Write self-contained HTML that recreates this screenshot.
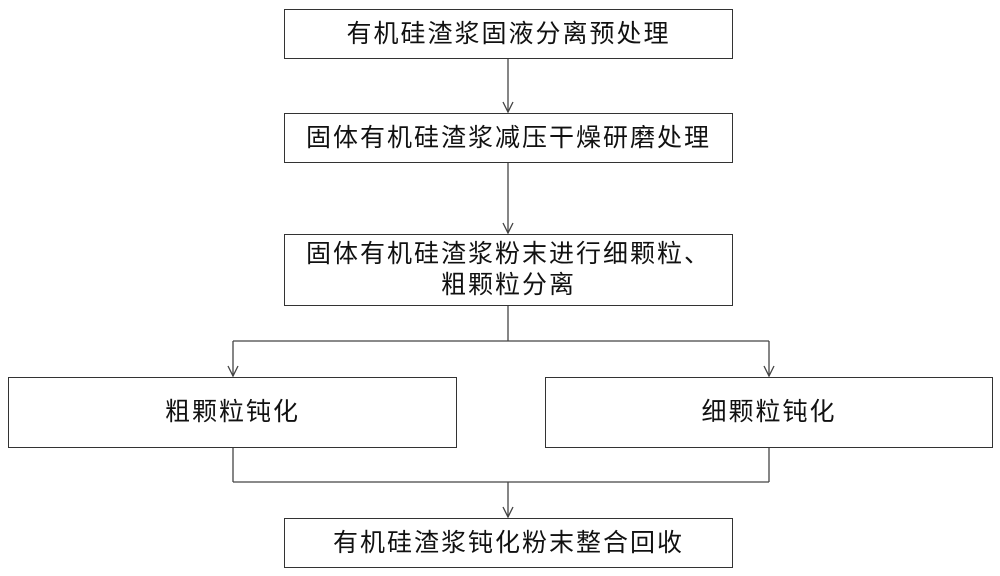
<!DOCTYPE html>
<html><head><meta charset="utf-8"><style>
body{margin:0;background:#fff;width:1000px;height:576px;overflow:hidden;font-family:"Liberation Sans","Noto Sans CJK SC",sans-serif;}
.b{position:absolute;border:1.5px solid #333;box-sizing:border-box;display:flex;align-items:center;justify-content:center;text-align:center;font-size:25px;letter-spacing:2px;color:#111;line-height:31px;}
svg{position:absolute;left:0;top:0}
</style></head><body>
<svg width="1000" height="576" stroke="#444" stroke-width="1.3" fill="none">
<line x1="508" y1="58" x2="508" y2="112"/><polyline points="503,102 508,112 513,102"/>
<line x1="508" y1="162" x2="508" y2="233"/><polyline points="503,223 508,233 513,223"/>
<line x1="508" y1="305" x2="508" y2="341"/>
<line x1="233" y1="341" x2="769" y2="341"/>
<line x1="233" y1="341" x2="233" y2="376"/><polyline points="228,366 233,376 238,366"/>
<line x1="769" y1="341" x2="769" y2="376"/><polyline points="764,366 769,376 774,366"/>
<line x1="233" y1="447" x2="233" y2="482"/><line x1="769" y1="447" x2="769" y2="482"/>
<line x1="233" y1="482" x2="769" y2="482"/>
<line x1="508" y1="482" x2="508" y2="517"/><polyline points="503,507 508,517 513,507"/>
</svg>
<div class="b" style="left:284px;top:9px;width:449px;height:50px">有机硅渣浆固液分离预处理</div>
<div class="b" style="left:284px;top:113px;width:449px;height:50px">固体有机硅渣浆减压干燥研磨处理</div>
<div class="b" style="left:284px;top:234px;width:449px;height:72px;padding:0 4px">固体有机硅渣浆粉末进行细颗粒、<br>粗颗粒分离</div>
<div class="b" style="left:8px;top:377px;width:449px;height:71px">粗颗粒钝化</div>
<div class="b" style="left:545px;top:377px;width:448px;height:71px">细颗粒钝化</div>
<div class="b" style="left:284px;top:518px;width:449px;height:50px">有机硅渣浆钝化粉末整合回收</div>
</body></html>
